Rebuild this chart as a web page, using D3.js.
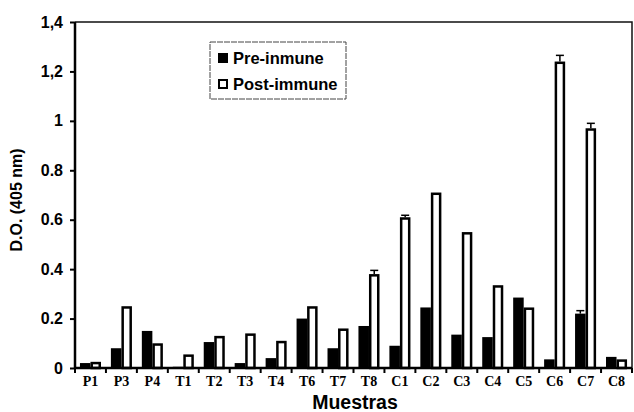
<!DOCTYPE html>
<html>
<head>
<meta charset="utf-8">
<script src="https://cdn.jsdelivr.net/npm/d3@7"></script>
<style>
  html, body { margin: 0; padding: 0; background: #fff; }
  svg { display: block; }
  .ylab text { font-family: "Liberation Sans", Arial, sans-serif; font-weight: bold; font-size: 16px; }
  .xlab text { font-family: "Liberation Serif", "Times New Roman", serif; font-weight: bold; font-size: 14px; }
</style>
</head>
<body>
<div id="chart"></div>
<script>
// categories and values
const muestras = ['P1', 'P3', 'P4', 'T1', 'T2', 'T3', 'T4', 'T6', 'T7', 'T8', 'C1', 'C2', 'C3', 'C4', 'C5', 'C6', 'C7', 'C8']
const preInmune = [0.02, 0.08, 0.15, 0.005, 0.105, 0.02, 0.04, 0.20, 0.08, 0.17, 0.09, 0.245, 0.135, 0.125, 0.285, 0.035, 0.22, 0.045]
const postImmune = [0.025, 0.25, 0.10, 0.055, 0.13, 0.14, 0.11, 0.25, 0.16, 0.38, 0.61, 0.71, 0.55, 0.335, 0.245, 1.24, 0.97, 0.035]
const preErr = [0, 0, 0, 0, 0, 0, 0, 0, 0, 0, 0, 0, 0, 0, 0, 0, 0.012, 0]
const postErr = [0, 0, 0, 0, 0, 0, 0, 0, 0, 0.015, 0.008, 0, 0, 0, 0, 0.025, 0.02, 0]
const yTicks = [0, 0.2, 0.4, 0.6, 0.8, 1, 1.2, 1.4]
const yTickLabels = ['0', '0.2', '0.4', '0.6', '0.8', '1', '1,2', '1,4']
const series = ['Pre-inmune', 'Post-immune']

const width = 634, height = 412
const mLeft = 75, mRight = 632, mTop = 22, mBottom = 368

const svg = d3.select('#chart').append('svg')
    .attr('width', width)
    .attr('height', height)

const x = d3.scaleBand().domain(muestras).range([mLeft, mRight]).paddingInner(0.32).paddingOuter(0.16)
const xSub = d3.scaleBand().domain(series).range([0, x.bandwidth()])
const y = d3.scaleLinear().domain([0, 1.4]).range([mBottom, mTop])

const rows = muestras.map((m, i) => ({ m, pre: preInmune[i], post: postImmune[i], preE: preErr[i], postE: postErr[i] }))

// frame (top and right)
svg.append('path')
    .attr('d', `M${mLeft},${y(1.4)}H${mRight}V${y(0)}`)
    .attr('fill', 'none')
    .attr('stroke', '#111')
    .attr('stroke-width', 1.5)

// bars
const g = svg.append('g')
const groups = g.selectAll('g.grp').data(rows).enter().append('g')
    .attr('transform', d => `translate(${x(d.m)},0)`)

groups.append('rect')
    .attr('x', xSub('Pre-inmune'))
    .attr('width', xSub.bandwidth())
    .attr('y', d => y(d.pre))
    .attr('height', d => y(0) - y(d.pre))
    .attr('fill', '#000')

groups.append('rect')
    .attr('x', xSub('Post-immune') + 1.25)
    .attr('width', xSub.bandwidth() - 2.5)
    .attr('y', d => y(d.post) + 1.25)
    .attr('height', d => Math.max(0, y(0) - y(d.post) - 1.25))
    .attr('fill', '#fff')
    .attr('stroke', '#000')
    .attr('stroke-width', 2.5)

// error bars
const errs = []
rows.forEach(d => {
    if (d.preE > 0) errs.push({ m: d.m, s: 'Pre-inmune', v: d.pre, e: d.preE })
    if (d.postE > 0) errs.push({ m: d.m, s: 'Post-immune', v: d.post, e: d.postE })
})
const eg = svg.append('g').attr('stroke', '#000').attr('stroke-width', 1.5)
errs.forEach(d => {
    const cx = x(d.m) + xSub(d.s) + xSub.bandwidth() / 2
    eg.append('line').attr('x1', cx).attr('x2', cx).attr('y1', y(d.v)).attr('y2', y(d.v + d.e))
    eg.append('line').attr('x1', cx - 4).attr('x2', cx + 4).attr('y1', y(d.v + d.e)).attr('y2', y(d.v + d.e))
})

// y axis
const yAxis = svg.append('g')
    .attr('class', 'ylab')
    .attr('transform', `translate(${mLeft},0)`)
    .call(d3.axisLeft(y).tickValues(yTicks).tickFormat((d, i) => yTickLabels[i]).tickSize(5).tickPadding(7))
yAxis.select('.domain').attr('stroke-width', 2.5).attr('d', `M0,${y(1.4)}V${y(0)}`)
yAxis.selectAll('.tick line').attr('stroke-width', 2)
yAxis.selectAll('text').attr('fill', '#000')

// x axis
const xAxis = svg.append('g')
    .attr('class', 'xlab')
    .attr('transform', `translate(0,${mBottom})`)
    .call(d3.axisBottom(x).tickSize(0).tickPadding(8))
xAxis.select('.domain').attr('stroke-width', 2.5).attr('d', `M${mLeft},0H${mRight}`)
xAxis.selectAll('text').attr('fill', '#000')

// boundary ticks between samples
const bounds = muestras.map(m => x(m) - x.step() * x.paddingInner() / 2).concat([mRight])
svg.append('g').selectAll('line').data(bounds).enter().append('line')
    .attr('x1', d => d).attr('x2', d => d)
    .attr('y1', mBottom).attr('y2', mBottom + 5)
    .attr('stroke', '#000').attr('stroke-width', 2)

// axis titles
svg.append('text')
    .attr('transform', `translate(22,${(mTop + mBottom) / 2 + 5}) rotate(-90)`)
    .attr('text-anchor', 'middle')
    .style('font-family', '"Liberation Sans", Arial, sans-serif')
    .style('font-weight', 'bold')
    .style('font-size', '16px')
    .text('D.O. (405 nm)')

svg.append('text')
    .attr('x', 355)
    .attr('y', 409)
    .attr('text-anchor', 'middle')
    .style('font-family', '"Liberation Sans", Arial, sans-serif')
    .style('font-weight', 'bold')
    .style('font-size', '19.5px')
    .text('Muestras')

// legend
const lg = svg.append('g').attr('transform', 'translate(210,42)')
lg.append('rect')
    .attr('width', 136).attr('height', 57)
    .attr('fill', '#fff')
    .attr('stroke', '#444').attr('stroke-width', 1).attr('stroke-dasharray', '6,1')
series.forEach((s, i) => {
    const row = lg.append('g').attr('transform', `translate(0,${11 + i * 26})`)
    row.append('rect')
        .attr('x', i === 0 ? 8 : 9).attr('y', i === 0 ? 0 : 1)
        .attr('width', i === 0 ? 10 : 8).attr('height', i === 0 ? 10 : 8)
        .attr('fill', i === 0 ? '#000' : '#fff')
        .attr('stroke', '#000').attr('stroke-width', i === 0 ? 0 : 2)
    row.append('text')
        .attr('x', 23).attr('y', 11)
        .style('font-family', '"Liberation Sans", Arial, sans-serif')
        .style('font-weight', 'bold')
        .style('font-size', '16.5px')
        .text(s)
})
</script>
</body>
</html>
